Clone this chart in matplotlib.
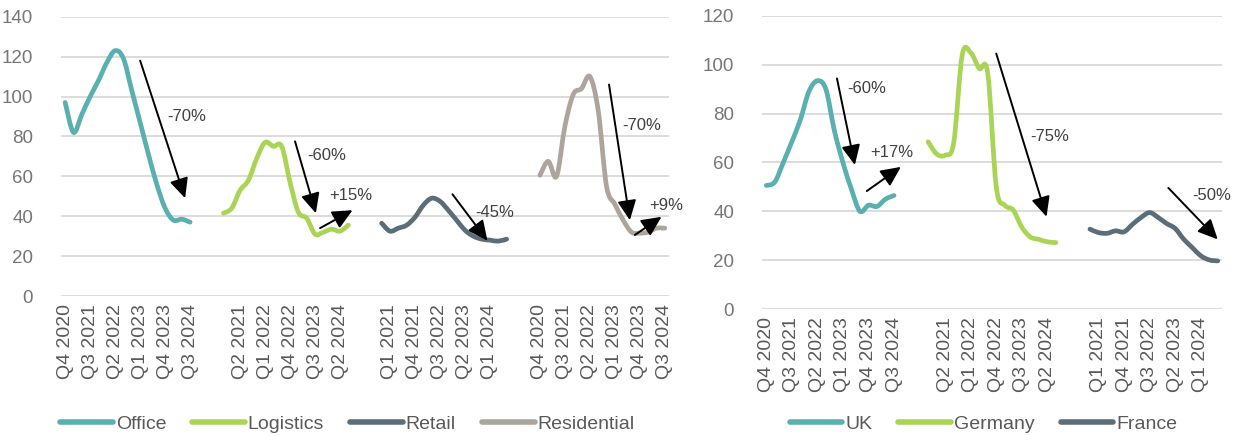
import numpy as np
import matplotlib
matplotlib.use("Agg")
import matplotlib.pyplot as plt
from matplotlib.path import Path
from matplotlib.patches import PathPatch
from matplotlib.lines import Line2D

plt.rcParams['font.family'] = ['Liberation Sans', 'DejaVu Sans']

# Quarterly index values, Q4 2020 .. Q3 2024
quarters = ["Q4 2020", "Q1 2021", "Q2 2021", "Q3 2021", "Q4 2021", "Q1 2022",
            "Q2 2022", "Q3 2022", "Q4 2022", "Q1 2023", "Q2 2023", "Q3 2023",
            "Q4 2023", "Q1 2024", "Q2 2024", "Q3 2024"]

# By sector
sector_names = ["Office", "Logistics", "Retail", "Residential"]
office = [97, 82, 91, 100, 108, 117, 123, 119, 103, 87, 71, 56, 44, 38, 38.5, 37]
logistics = [41.5, 44, 53, 58, 69, 77, 75, 75, 57, 42, 39, 31, 32, 33.5, 32.5, 35.5]
retail = [36.5, 32.5, 34, 35.5, 39.5, 45.5, 49, 47.5, 43, 38, 33, 30, 28.5, 28, 27.5, 28.5]
residential = [60.5, 67.5, 60, 85, 101, 104, 110, 93, 55, 46, 38, 32, 31.5, 32, 34, 34]

# By country
country_names = ["UK", "Germany", "France"]
uk = [50.6, 52, 60, 68.5, 77.5, 89, 93.5, 90, 73, 60, 49, 40, 42.5, 42, 45, 46.5]
germany = [68.5, 63.5, 63, 68, 104, 105, 98.5, 96.5, 50, 42.5, 40.5, 33.5, 29.5, 28.5, 27.5, 27.2]
france = [32.7, 31.3, 31, 32, 31.6, 34.7, 37.5, 39.5, 37.5, 35, 33, 28.6, 25.2, 21.8, 20.1, 19.7]

# Change annotations: (series, start quarter pos, start value, end pos, end value, label, label pos, label value)
sector_arrows = [
    ("Office", 9.0, 118, 14.4, 49, "-70%", 14.6, 90),
    ("Logistics", 8.6, 77.5, 11.1, 41.5, "-60%", 12.4, 70.5),
    ("Logistics", 11.6, 34, 15.5, 43, "+15%", 15.3, 50.5),
    ("Retail", 8.5, 51, 12.7, 27.7, "-45%", 13.6, 42),
    ("Residential", 8.3, 106, 10.8, 38, "-70%", 12.2, 85.5),
    ("Residential", 11.4, 30.6, 14.6, 39.7, "+9%", 15.2, 45.6),
]
country_arrows = [
    ("UK", 8.3, 94.4, 10.4, 59, "-60%", 11.8, 90.3),
    ("UK", 11.8, 48.3, 15.8, 58.2, "+17%", 14.7, 64.3),
    ("Germany", 8.0, 104.6, 13.9, 37.8, "-75%", 14.3, 70.5),
    ("France", 9.2, 49.6, 15.0, 28.5, "-50%", 14.3, 46.6),
]

colors = {"Office": "#5aafb0", "UK": "#5aafb0",
          "Logistics": "#a9d455", "Germany": "#a9d455",
          "Retail": "#5a6d79", "France": "#5a6d79",
          "Residential": "#ada59b"}

GAP = 3  # blank categories between groups
LINE_W = 3.4


def smooth_path(xs, ys):
    """Cubic Bezier through the points (Catmull-Rom style smoothing)."""
    pts = np.column_stack([xs, ys]).astype(float)
    n = len(pts)
    verts = [pts[0]]
    codes = [Path.MOVETO]
    for i in range(n - 1):
        p0 = pts[max(i - 1, 0)]
        p1 = pts[i]
        p2 = pts[i + 1]
        p3 = pts[min(i + 2, n - 1)]
        c1 = p1 + (p2 - p0) / 6.0
        c2 = p2 - (p3 - p1) / 6.0
        verts += [c1, c2, p2]
        codes += [Path.CURVE4] * 3
    return Path(verts, codes)


def draw_panel(ax, names, series, arrows, ymax, leg_x):
    cats = []
    offsets = {}
    for k, (name, vals) in enumerate(zip(names, series)):
        if k > 0:
            cats += [""] * GAP
        offsets[name] = len(cats)
        cats += quarters
        x = np.arange(len(vals)) + offsets[name]
        patch = PathPatch(smooth_path(x, vals), fill=False, edgecolor=colors[name],
                          lw=LINE_W, capstyle='round', joinstyle='round', zorder=3)
        patch.set_clip_on(False)
        ax.add_patch(patch)

    ncat = len(cats)
    ax.set_xlim(-0.5, ncat - 0.5)
    ax.set_ylim(0, ymax)
    ticks = list(range(0, ncat, 3))
    ax.set_xticks(ticks)
    ax.set_xticklabels([cats[t] for t in ticks], rotation=90, fontsize=14,
                       color="#595959", va="top", ha="center")
    ax.set_yticks(np.arange(0, ymax + 1, 20))
    ax.tick_params(axis='y', labelsize=13.5, labelcolor="#767676", length=0, pad=20)
    ax.tick_params(axis='x', length=0, pad=6)
    for s in ax.spines.values():
        s.set_visible(False)
    ax.grid(axis='y', color="#d9d9d9", lw=1.3)
    ax.set_axisbelow(True)

    for name, x0, y0, x1, y1, lab, lx, ly in arrows:
        o = offsets[name]
        ax.annotate("", xy=(x1 + o, y1), xytext=(x0 + o, y0),
                    arrowprops=dict(arrowstyle="-|>,head_length=0.55,head_width=0.26",
                                    color="black", lw=1.4, mutation_scale=22,
                                    shrinkA=0, shrinkB=0),
                    annotation_clip=False, zorder=4)
        ax.text(lx + o, ly, lab, fontsize=12, color="#404040", ha="center", va="center",
                zorder=5)

    handles = [Line2D([], [], color=colors[n], lw=LINE_W + 0.6, solid_capstyle='round')
               for n in names]
    ax.figure.legend(handles, names, loc="center", bbox_to_anchor=(leg_x, 1 - 424 / 436),
                     ncol=len(names), frameon=False, fontsize=14, labelcolor="#595959",
                     handlelength=2.7, handletextpad=0.15, columnspacing=1.35,
                     borderaxespad=0, borderpad=0)


fig = plt.figure(figsize=(12.39, 4.36), dpi=100)
ax1 = fig.add_axes([61 / 1239, 1 - 296 / 436, 608 / 1239, (296 - 16.7) / 436])
ax2 = fig.add_axes([762 / 1239, 1 - 309 / 436, 460 / 1239, (309 - 16) / 436])

draw_panel(ax1, sector_names, [office, logistics, retail, residential], sector_arrows,
           140, 347.5 / 1239)
draw_panel(ax2, country_names, [uk, germany, france], country_arrows, 120, 983.5 / 1239)

fig.savefig("out.png", dpi=100)
